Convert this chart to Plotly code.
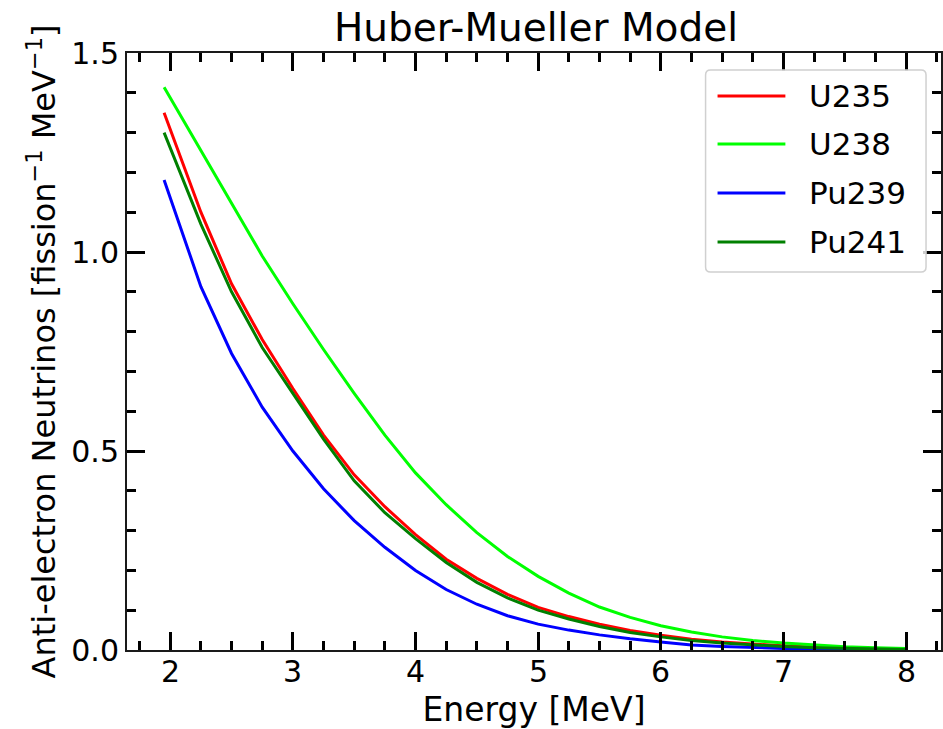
import plotly.graph_objects as go

# Reactor antineutrino spectra (Huber-Mueller model), per fission per MeV
energy = [1.95, 2.25, 2.5, 2.75, 3.0, 3.25, 3.5, 3.75, 4.0, 4.25, 4.5, 4.75, 5.0,
          5.25, 5.5, 5.75, 6.0, 6.25, 6.5, 6.75, 7.0, 7.25, 7.5, 7.75, 8.0]

u235 = [1.350, 1.100, 0.920, 0.780, 0.657, 0.540, 0.440, 0.360, 0.290, 0.228, 0.180,
        0.140, 0.107, 0.084, 0.065, 0.049, 0.037, 0.027, 0.020, 0.0145, 0.0104,
        0.0070, 0.0046, 0.0030, 0.0018]

u238 = [1.414, 1.255, 1.120, 0.990, 0.870, 0.755, 0.645, 0.540, 0.445, 0.365, 0.295,
        0.235, 0.185, 0.143, 0.108, 0.082, 0.061, 0.045, 0.033, 0.024, 0.0175,
        0.0123, 0.0083, 0.0055, 0.0035]

pu239 = [1.181, 0.913, 0.745, 0.610, 0.500, 0.405, 0.325, 0.258, 0.200, 0.152, 0.115,
         0.086, 0.065, 0.050, 0.038, 0.028, 0.020, 0.0125, 0.0088, 0.0060, 0.0040,
         0.0026, 0.0017, 0.0011, 0.0006]

pu241 = [1.300, 1.070, 0.900, 0.760, 0.645, 0.530, 0.425, 0.345, 0.280, 0.220, 0.170,
         0.131, 0.100, 0.078, 0.059, 0.044, 0.033, 0.024, 0.0175, 0.0125, 0.0088,
         0.0059, 0.0038, 0.0025, 0.0014]

names = ["U235", "U238", "Pu239", "Pu241"]
colors = ["#ff0000", "#00ff00", "#0000ff", "#008000"]
values = [u235, u238, pu239, pu241]

x_ticks = [2, 3, 4, 5, 6, 7, 8]
x_tick_labels = ["2", "3", "4", "5", "6", "7", "8"]

FONT = "DejaVu Sans"
W, H = 943, 729
ML, MR, MT, MB = 127, 0, 53, 79
PW, PH = W - ML - MR, H - MT - MB


def px_x(px):
    """Pixel column -> paper x fraction of the plot area."""
    return (px - ML) / PW


def px_y(py):
    """Pixel row (from top) -> paper y fraction of the plot area."""
    return (H - MB - py) / PH


fig = go.Figure()
for name, vals, color in zip(names, values, colors):
    fig.add_trace(go.Scatter(
        x=energy, y=vals, name=name, mode="lines",
        line=dict(color=color, width=3), showlegend=False,
    ))

axis_common = dict(
    showline=True, linecolor="#1a1a1a", linewidth=2,
    mirror="ticks", ticks="inside", ticklen=18, tickwidth=3, tickcolor="black",
    showgrid=False, zeroline=False,
    tickfont=dict(family=FONT, size=30, color="black"),
    ticklabelstandoff=0,
)

fig.update_xaxes(
    **axis_common,
    range=[1.6475, 8.2846], tickvals=x_ticks, showticklabels=False,
    minor=dict(ticks="inside", ticklen=9, tickwidth=2.5, dtick=0.25, tick0=0,
               tickcolor="black", showgrid=False),
    title=dict(text="Energy [MeV]", font=dict(family=FONT, size=33, color="black"),
               standoff=48),
)
fig.update_yaxes(
    **axis_common,
    range=[0, 1.5], dtick=0.5, tick0=0, tickformat=".1f",
    minor=dict(ticks="inside", ticklen=9, tickwidth=2.5, dtick=0.1, tick0=0,
               tickcolor="black", showgrid=False),
    title=dict(text="Anti-electron Neutrinos [fission<sup>−1</sup> MeV<sup>−1</sup>]",
               font=dict(family=FONT, size=32, color="black"), standoff=6),
)

annotations = []
# Energy tick labels, placed on the x data scale just below the axis
for tv, tl in zip(x_ticks, x_tick_labels):
    annotations.append(dict(text=tl, xref="x", yref="paper", x=tv, y=px_y(671),
                            xanchor="center", yanchor="middle", showarrow=False,
                            font=dict(family=FONT, size=30, color="black")))

# Legend box drawn in paper coordinates (rounded rectangle)
x0, x1, y0, y1 = px_x(707), px_x(928), px_y(272), px_y(70)
rx, ry = 5 / PW, 5 / PH
box_path = (f"M {x0+rx},{y0} L {x1-rx},{y0} Q {x1},{y0} {x1},{y0+ry} "
            f"L {x1},{y1-ry} Q {x1},{y1} {x1-rx},{y1} L {x0+rx},{y1} "
            f"Q {x0},{y1} {x0},{y1-ry} L {x0},{y0+ry} Q {x0},{y0} {x0+rx},{y0} Z")
shapes = [dict(type="path", path=box_path, xref="paper", yref="paper",
               line=dict(color="#d0d0d0", width=1.5),
               fillcolor="rgba(255,255,255,0.8)", layer="above")]
row_y = [96, 144, 193, 242]
for name, color, ry_px in zip(names, colors, row_y):
    yy = px_y(ry_px)
    shapes.append(dict(type="line", xref="paper", yref="paper",
                       x0=px_x(719), x1=px_x(787), y0=yy, y1=yy,
                       line=dict(color=color, width=3), layer="above"))
    annotations.append(dict(text=name, xref="paper", yref="paper",
                            x=px_x(809), y=yy, xanchor="left", yanchor="middle",
                            showarrow=False,
                            font=dict(family=FONT, size=31, color="black")))

fig.update_layout(
    width=W, height=H,
    margin=dict(l=ML, r=MR, t=MT, b=MB),
    paper_bgcolor="white", plot_bgcolor="white",
    title=dict(text="Huber-Mueller Model", x=536 / W, xanchor="center",
               y=0.962, yanchor="middle",
               font=dict(family=FONT, size=39, color="black")),
    shapes=shapes, annotations=annotations,
    showlegend=False,
)

fig.write_html("out.html")
